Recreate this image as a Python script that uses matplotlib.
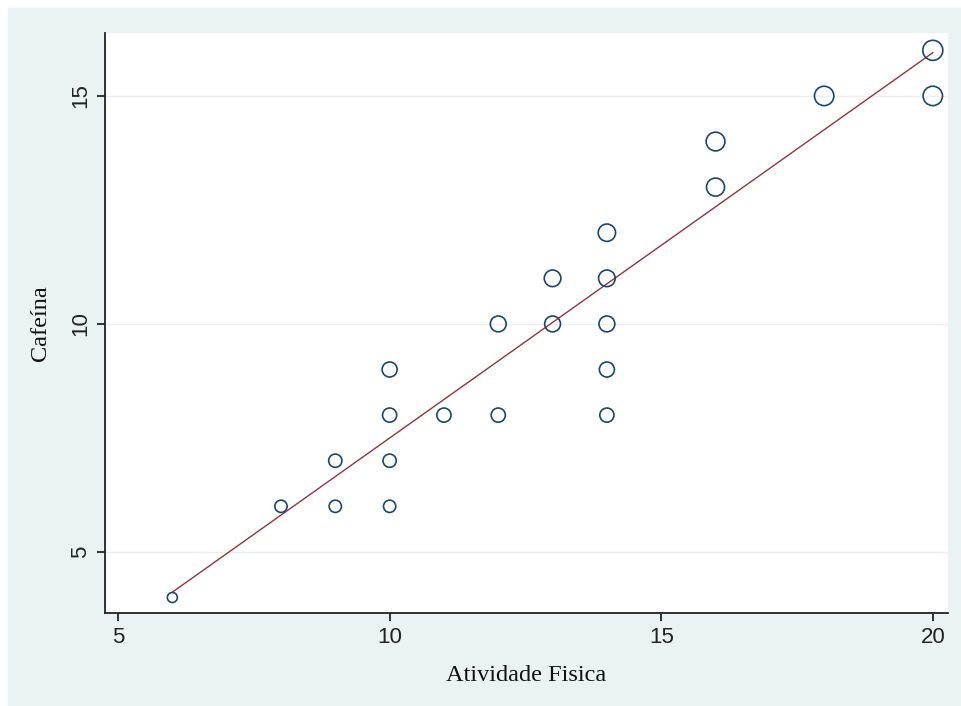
import numpy as np
import matplotlib
matplotlib.use("Agg")
from matplotlib import pyplot as plt
from matplotlib.patches import Rectangle

# data
atividade = [6, 8, 9, 9, 10, 10, 10, 10, 11, 12, 12, 13, 13,
             14, 14, 14, 14, 14, 16, 16, 18, 20, 20]
cafeina = [4, 6, 6, 7, 6, 7, 8, 9, 8, 8, 10, 10, 11,
           8, 9, 10, 11, 12, 13, 14, 15, 15, 16]
x_ticks = [5, 10, 15, 20]
y_ticks = [5, 10, 15]

W, H = 961, 706
fig = plt.figure(figsize=(W / 100, H / 100), dpi=100, facecolor="white")

# stata style graph region
fig.patches.append(Rectangle((8 / W, 0), 1 - 8 / W, 1 - 8 / H,
                             transform=fig.transFigure, color="#eaf2f3",
                             zorder=-1))

ax = fig.add_axes([105 / W, 1 - 613 / H, (948 - 105) / W, (613 - 33) / H])
ax.set_facecolor("white")

x = np.array(atividade, dtype=float)
y = np.array(cafeina, dtype=float)

# marker area weighted by y
ax.scatter(x, y, s=13 * y, facecolors="none", edgecolors="#1a476f",
           linewidths=1.2, zorder=3)

# weighted fit (aweight = y)
b, a = np.polyfit(x, y, 1, w=np.sqrt(y))
xs = np.array([x.min(), x.max()])
ax.plot(xs, a + b * xs, color="#90353b", lw=1.0, zorder=2)

ax.set_xlim(4.76, 20.28)
ax.set_ylim(3.66, 16.38)
ax.set_xticks(x_ticks)
ax.set_yticks(y_ticks)
ax.yaxis.grid(True, color="#eeeeee", lw=1.0)
ax.set_axisbelow(True)

for s in ["top", "right"]:
    ax.spines[s].set_visible(False)
for s in ["left", "bottom"]:
    ax.spines[s].set_color("#222222")
    ax.spines[s].set_linewidth(1.3)

ax.tick_params(direction="out", length=6, width=1.3, color="#222222",
               labelsize=16, labelcolor="#222222", pad=4)
for lab in ax.get_xticklabels() + ax.get_yticklabels():
    lab.set_family("Liberation Sans")
for lab in ax.get_yticklabels():
    lab.set_rotation(90)
    lab.set_va("center")

ax.set_xlabel("Atividade Fisica", family="Liberation Serif", fontsize=17.5,
              color="#111111", labelpad=12)
ax.set_ylabel("Cafeína", family="Liberation Serif", fontsize=17.5,
              color="#111111", labelpad=14)

fig.savefig("out.png", dpi=100, facecolor=fig.get_facecolor())
